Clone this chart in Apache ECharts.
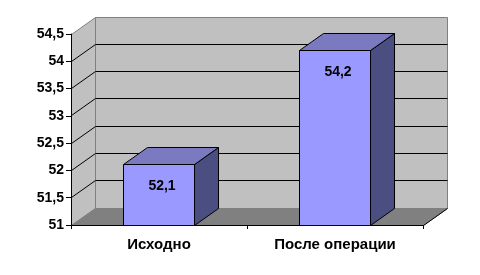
<!DOCTYPE html>
<html>
<head>
<meta charset="utf-8">
<script src="https://cdn.jsdelivr.net/npm/echarts@6/dist/echarts.min.js"></script>
<style>html,body{margin:0;padding:0;background:#fff;}#c{width:480px;height:275px;}</style>
</head>
<body>
<div id="c"></div>
<script>
var categories = ['Исходно', 'После операции'];
var values = [52.1, 54.2];
var yTicks = [51, 51.5, 52, 52.5, 53, 53.5, 54, 54.5];
var yTickLabels = ['51', '51,5', '52', '52,5', '53', '53,5', '54', '54,5'];

var DX = 24, DY = -17;
var FONT = '"Liberation Sans", Arial, sans-serif';
function r(v) { return Math.round(v - 0.5) + 0.5; }

var chart = echarts.init(document.getElementById('c'), null, {renderer: 'canvas'});

function renderWalls(params, api) {
  var cs = params.coordSys;
  var x0 = r(cs.x), x1 = r(cs.x + cs.width);
  var yb = r(cs.y + cs.height), yt = r(cs.y);
  var ch = [];
  // back wall
  ch.push({type: 'polygon', shape: {points: [[x0 + DX, yt + DY], [x1 + DX, yt + DY], [x1 + DX, yb + DY], [x0 + DX, yb + DY]]},
    style: {fill: '#c0c0c0', stroke: '#808080', lineWidth: 1}});
  // left wall
  ch.push({type: 'polygon', shape: {points: [[x0, yt], [x0 + DX, yt + DY], [x0 + DX, yb + DY], [x0, yb]]},
    style: {fill: '#c0c0c0', stroke: '#808080', lineWidth: 1}});
  // floor
  ch.push({type: 'polygon', shape: {points: [[x0, yb], [x1, yb], [x1 + DX, yb + DY], [x0 + DX, yb + DY]]},
    style: {fill: '#808080', stroke: '#808080', lineWidth: 1}});
  ch.push({type: 'line', shape: {x1: x1, y1: yb, x2: x1 + DX, y2: yb + DY}, style: {stroke: '#000', lineWidth: 1}});
  // gridlines
  for (var i = 1; i < yTicks.length - 1; i++) {
    var y = r(api.coord([0, yTicks[i]])[1]);
    ch.push({type: 'line', shape: {x1: x0 + DX, y1: y + DY, x2: x1 + DX, y2: y + DY}, style: {stroke: '#000', lineWidth: 1}});
    ch.push({type: 'line', shape: {x1: x0, y1: y, x2: x0 + DX, y2: y + DY}, style: {stroke: '#000', lineWidth: 1}});
  }
  return {type: 'group', children: ch};
}

function renderBar(params, api) {
  var idx = api.value(0), val = api.value(1);
  var p = api.coord([idx, val]);
  var base = api.coord([idx, yTicks[0]]);
  var bw = api.size([1, 0])[0] * 0.4;
  var xl = r(p[0] - bw / 2), xr = r(p[0] + bw / 2);
  var yt = r(p[1]), yb = r(base[1]);
  var st = {stroke: '#000', lineWidth: 1};
  return {type: 'group', children: [
    {type: 'polygon', shape: {points: [[xr, yt], [xr + DX, yt + DY], [xr + DX, yb + DY], [xr, yb]]},
      style: Object.assign({fill: '#4b4e80'}, st)},
    {type: 'polygon', shape: {points: [[xl, yt], [xl + DX, yt + DY], [xr + DX, yt + DY], [xr, yt]]},
      style: Object.assign({fill: '#7b79c0'}, st)},
    {type: 'rect', shape: {x: xl, y: yt, width: xr - xl, height: yb - yt},
      style: Object.assign({fill: '#9999ff'}, st)},
    {type: 'text', x: (xl + xr) / 2 + 3, y: yt + 22,
      style: {text: String(val).replace('.', ','), fill: '#000', font: 'bold 14px ' + FONT, align: 'center', verticalAlign: 'middle'}}
  ]};
}

chart.setOption({
  animation: false,
  grid: {left: 71, right: 57, top: 34, bottom: 50, containLabel: false},
  xAxis: {
    type: 'category', data: categories, boundaryGap: true,
    axisLine: {lineStyle: {color: '#000', width: 1}},
    axisTick: {show: true, alignWithLabel: false, length: 4, lineStyle: {color: '#000'}},
    axisLabel: {color: '#000', fontFamily: FONT, fontSize: 15, fontWeight: 'bold', margin: 12},
    z: 10
  },
  yAxis: {
    type: 'value', min: 51, max: 54.5, interval: 0.5,
    axisLine: {show: true, lineStyle: {color: '#000', width: 1}},
    axisTick: {show: true, length: 5, lineStyle: {color: '#000'}},
    splitLine: {show: false},
    axisLabel: {color: '#000', fontFamily: FONT, fontSize: 14, fontWeight: 'bold', margin: 7,
      formatter: function (v) { var i = yTicks.indexOf(v); return i >= 0 ? yTickLabels[i] : String(v).replace('.', ','); }},
    z: 10
  },
  series: [
    {type: 'custom', name: 'walls', data: [[0, 51]], renderItem: renderWalls, silent: true, z: 1},
    {type: 'custom', name: 'bars', data: values.map(function (v, i) { return [i, v]; }), renderItem: renderBar, z: 2,
      encode: {x: 0, y: 1}}
  ]
});
</script>
</body>
</html>
